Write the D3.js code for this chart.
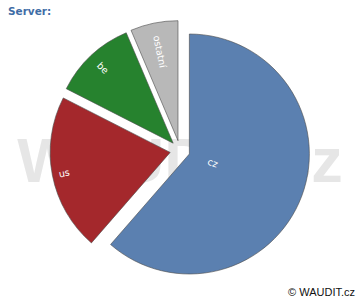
<!DOCTYPE html>
<html>
<head>
<meta charset="utf-8">
<script src="https://cdn.jsdelivr.net/npm/d3@7"></script>
<style>
  body { margin: 0; background: #fff; }
  #chart { width: 360px; height: 300px; }
</style>
</head>
<body>
<div id="chart"></div>
<script>
// data
const categories = ["cz", "us", "be", "ostatní"];
const shares = [61.4, 21.1, 11.1, 6.4];
const colors = ["#587dae", "#a22428", "#22802a", "#b7b7b7"];
// label distance from slice tip (px)
const labelDist = [25, 108, 103, 91];

const width = 360, height = 300;
const cx = 180, cy = 150.5, radius = 120, explode = 10;

const svg = d3.select("#chart")
    .append("svg")
    .attr("width", width)
    .attr("height", height);

/*
WATERMARK
*/
svg.append("text")
    .attr("x", width / 2)
    .attr("y", 182)
    .attr("text-anchor", "middle")
    .attr("font-family", "Liberation Sans, Arial, sans-serif")
    .attr("font-weight", "bold")
    .attr("font-size", 63)
    .attr("fill", "#e6e6e6")
    .text("WAUDIT.cz");

/*
PIE
*/
const pie = d3.pie().sort(null).value(function(d) { return d; });
const arcs = pie(shares);

const arc = d3.arc().innerRadius(0).outerRadius(radius);

const slices = svg.selectAll("g.slice")
    .data(arcs)
    .enter()
    .append("g")
    .attr("class", "slice")
    .attr("transform", function(d) {
        const mid = (d.startAngle + d.endAngle) / 2;
        const ox = cx + explode * Math.sin(mid);
        const oy = cy - explode * Math.cos(mid);
        return `translate(${ox},${oy})`;
    });

slices.append("path")
    .attr("d", arc)
    .attr("fill", function(d, i) { return colors[i]; })
    .attr("fill-opacity", 0.98)
    .attr("stroke", "#4a4a4a")
    .attr("stroke-width", 0.6);

slices.append("text")
    .attr("transform", function(d, i) {
        const mid = (d.startAngle + d.endAngle) / 2;
        const x = labelDist[i] * Math.sin(mid);
        const y = -labelDist[i] * Math.cos(mid);
        let deg = mid * 180 / Math.PI;
        let rot = deg < 180 ? deg - 90 : deg - 270;
        return `translate(${x},${y}) rotate(${rot})`;
    })
    .attr("text-anchor", "middle")
    .attr("dominant-baseline", "central")
    .attr("font-family", "DejaVu Sans, sans-serif")
    .attr("font-size", 9.5)
    .attr("fill", "#ffffff")
    .text(function(d, i) { return categories[i]; });

/*
TITLE + FOOTER
*/
svg.append("text")
    .attr("x", 8)
    .attr("y", 15)
    .attr("font-family", "DejaVu Sans, sans-serif")
    .attr("font-weight", "bold")
    .attr("font-size", 10.5)
    .attr("fill", "#3f6da6")
    .text("Server:");

svg.append("text")
    .attr("x", 355)
    .attr("y", 296)
    .attr("text-anchor", "end")
    .attr("font-family", "Liberation Sans, Arial, sans-serif")
    .attr("font-size", 11)
    .attr("fill", "#111")
    .text("© WAUDIT.cz");
</script>
</body>
</html>
